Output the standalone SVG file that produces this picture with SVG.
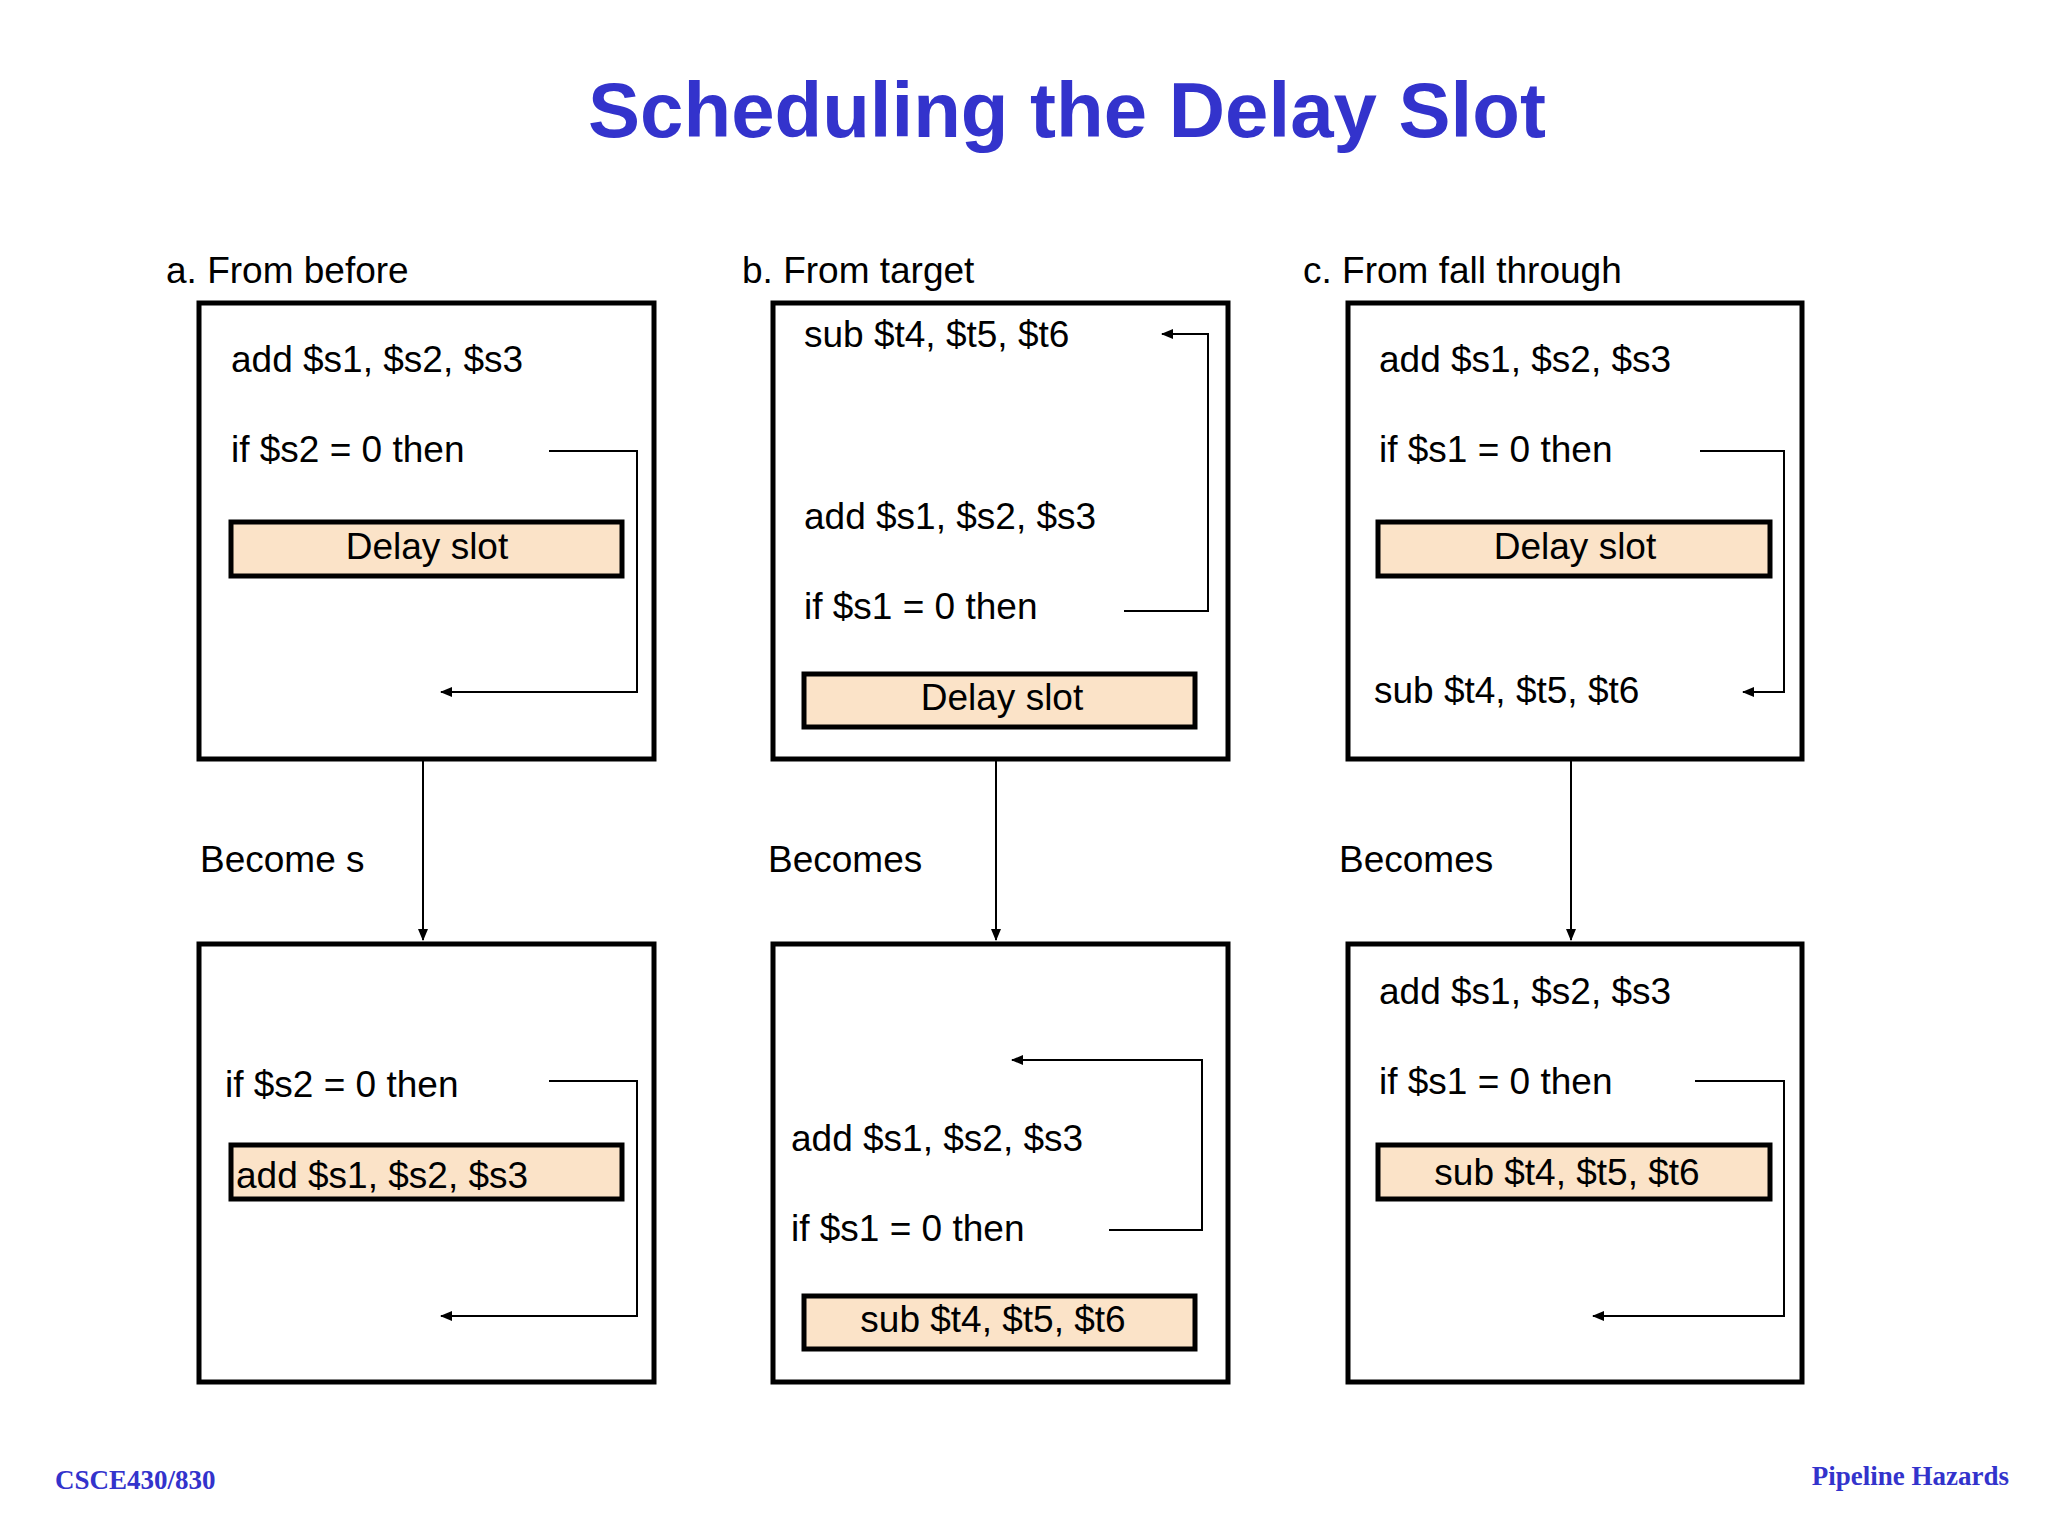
<svg xmlns="http://www.w3.org/2000/svg" width="2048" height="1536" viewBox="0 0 2048 1536">
<style>
.t{font-family:"Liberation Sans",Arial,sans-serif;font-size:37px;fill:#000}
.box{fill:#fff;stroke:#000;stroke-width:5}
.slot{fill:#fbe3c8;stroke:#000;stroke-width:5}
.ln{fill:none;stroke:#000;stroke-width:2}
.ft{font-family:"Liberation Serif",serif;font-weight:bold;font-size:27px;fill:#3333cc}
</style>
<defs><marker id="ah" markerWidth="12" markerHeight="10" refX="11" refY="5" orient="auto" markerUnits="userSpaceOnUse"><path d="M0,0 L12,5 L0,10 Z" fill="#000"/></marker></defs>
<rect width="2048" height="1536" fill="#fff"/>
<text x="1067" y="137" text-anchor="middle" font-family="Liberation Sans,Arial,sans-serif" font-weight="bold" font-size="78" fill="#3333cc">Scheduling the Delay Slot</text>
<text class="t" x="166" y="283">a.  From before</text>
<text class="t" x="742" y="283">b.  From target</text>
<text class="t" x="1303" y="283">c.  From fall through</text>
<g id="a_top"><rect class="box" x="199" y="303" width="455" height="456"/>
<text class="t" x="231" y="372">add $s1, $s2, $s3</text>
<text class="t" x="231" y="462">if $s2 = 0 then</text>
<rect class="slot" x="231" y="522" width="391" height="54"/>
<text class="t" x="427" y="559" text-anchor="middle">Delay slot</text></g>
<g id="b_top"><rect class="box" x="773" y="303" width="455" height="456"/>
<text class="t" x="804" y="347">sub $t4, $t5, $t6</text>
<text class="t" x="804" y="529">add $s1, $s2, $s3</text>
<text class="t" x="804" y="619">if $s1 = 0 then</text>
<rect class="slot" x="804" y="674" width="391" height="53"/>
<text class="t" x="1002" y="710" text-anchor="middle">Delay slot</text></g>
<g id="c_top"><rect class="box" x="1348" y="303" width="454" height="456"/>
<text class="t" x="1379" y="372">add $s1, $s2, $s3</text>
<text class="t" x="1379" y="462">if $s1 = 0 then</text>
<rect class="slot" x="1378" y="522" width="392" height="54"/>
<text class="t" x="1575" y="559" text-anchor="middle">Delay slot</text>
<text class="t" x="1374" y="703">sub $t4, $t5, $t6</text></g>
<g id="a_bot"><rect class="box" x="199" y="944" width="455" height="438"/>
<text class="t" x="225" y="1097">if $s2 = 0 then</text>
<rect class="slot" x="231" y="1145" width="391" height="54"/>
<text class="t" x="236" y="1188">add $s1, $s2, $s3</text></g>
<g id="b_bot"><rect class="box" x="773" y="944" width="455" height="438"/>
<text class="t" x="791" y="1151">add $s1, $s2, $s3</text>
<text class="t" x="791" y="1241">if $s1 = 0 then</text>
<rect class="slot" x="804" y="1296" width="391" height="53"/>
<text class="t" x="993" y="1332" text-anchor="middle">sub $t4, $t5, $t6</text></g>
<g id="c_bot"><rect class="box" x="1348" y="944" width="454" height="438"/>
<text class="t" x="1379" y="1004">add $s1, $s2, $s3</text>
<text class="t" x="1379" y="1094">if $s1 = 0 then</text>
<rect class="slot" x="1378" y="1145" width="392" height="54"/>
<text class="t" x="1567" y="1185" text-anchor="middle">sub $t4, $t5, $t6</text></g>
<g id="labels">
<text class="t" x="200" y="872">Become s</text>
<text class="t" x="768" y="872">Becomes</text>
<text class="t" x="1339" y="872">Becomes</text></g>
<g id="connectors">
<polyline class="ln" points="549,451 637,451 637,692 441,692" marker-end="url(#ah)"/>
<polyline class="ln" points="1124,611 1208,611 1208,334 1162,334" marker-end="url(#ah)"/>
<polyline class="ln" points="1700,451 1784,451 1784,692 1743,692" marker-end="url(#ah)"/>
<polyline class="ln" points="549,1081 637,1081 637,1316 441,1316" marker-end="url(#ah)"/>
<polyline class="ln" points="1109,1230 1202,1230 1202,1060 1012,1060" marker-end="url(#ah)"/>
<polyline class="ln" points="1695,1081 1784,1081 1784,1316 1593,1316" marker-end="url(#ah)"/>
<line class="ln" x1="423" y1="759" x2="423" y2="940" marker-end="url(#ah)"/>
<line class="ln" x1="996" y1="759" x2="996" y2="940" marker-end="url(#ah)"/>
<line class="ln" x1="1571" y1="759" x2="1571" y2="940" marker-end="url(#ah)"/>
</g>
<text class="ft" x="55" y="1489">CSCE430/830</text>
<text class="ft" x="2009" y="1485" text-anchor="end">Pipeline Hazards</text>
</svg>
